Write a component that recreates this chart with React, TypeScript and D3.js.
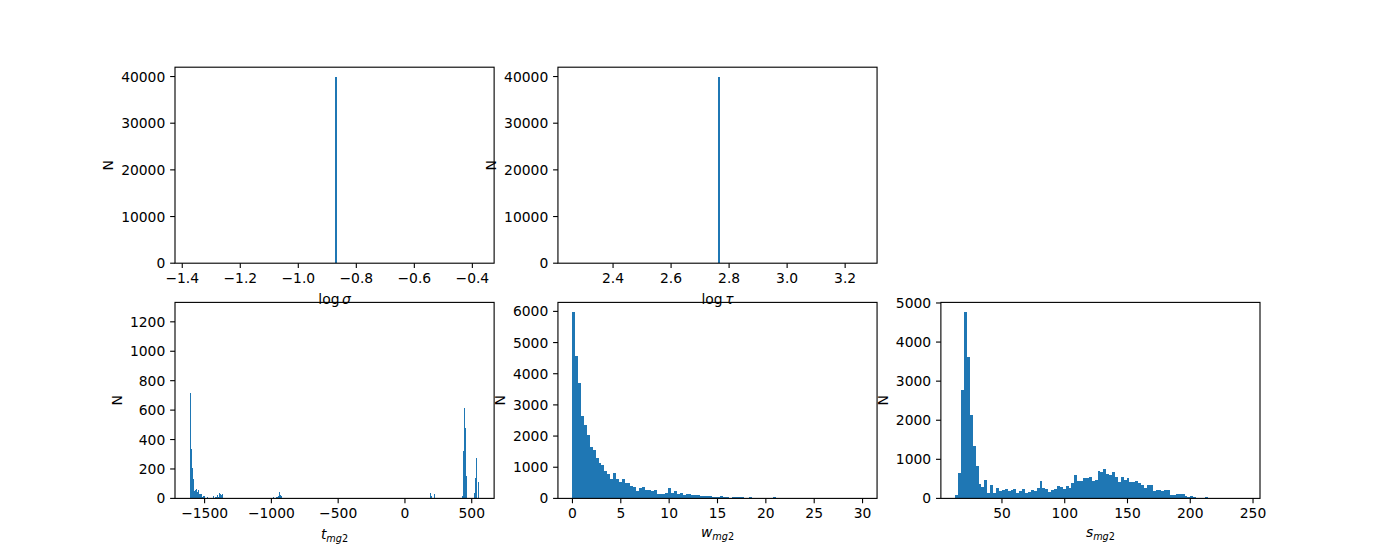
import React from "react";
import * as d3 from "d3";

// ---------- data ----------
const sigmaRange: [number, number] = [-1.375, -0.375];
const sigmaBins = 100;
const sigmaCounts: [number, number][] = [[50, 40000]];

const tauRange: [number, number] = [2.26, 3.26];
const tauBins = 100;
const tauCounts: [number, number][] = [[50, 40000]];

const tRange: [number, number] = [-1613, 559];
const tBins = 300;
const tCounts: [number, number][] = [
  [0, 714], [1, 333], [2, 204], [3, 129], [4, 48], [5, 54], [6, 61], [7, 41], [8, 54],
  [9, 27], [10, 27], [11, 27], [12, 7], [13, 14], [15, 14], [18, 7], [24, 14], [26, 7],
  [27, 7], [28, 20], [29, 7], [30, 34], [31, 27], [32, 20], [33, 27],
  [86, 7], [89, 7], [90, 10], [91, 14], [92, 41], [93, 22], [94, 14],
  [249, 34], [250, 14], [253, 27],
  [282, 14], [283, 320], [284, 612], [285, 476], [286, 150],
  [294, 34], [295, 136], [296, 272], [298, 109], [299, 1],
];
const tYMax = 1332;

const wRange: [number, number] = [0, 30];
const wCounts: number[] = [
  5989, 4572, 3703, 2640, 2351, 2029, 1642, 1546, 1288, 1127,
  1063, 869, 773, 612, 805, 612, 515, 612, 483, 483,
  386, 354, 225, 322, 354, 258, 258, 225, 258, 129,
  129, 129, 161, 322, 161, 225, 129, 161, 97, 129,
  129, 97, 97, 97, 64, 64, 64, 64, 32, 32,
  32, 64, 32, 32, 15, 32, 32, 32, 32, 10,
  12, 32, 8, 10, 6, 8, 5, 6, 8, 30,
  28, 6, 25, 4, 3, 2, 3, 2, 1, 2,
  1, 1, 2, 1, 0, 1, 1, 0, 1, 0,
  0, 1, 0, 0, 1, 0, 0, 0, 0, 1,
];

const sRange: [number, number] = [12.9, 244];
const sCounts: number[] = [
  77, 642, 2773, 4776, 3621, 2131, 1335, 822, 360, 282,
  462, 128, 334, 128, 257, 180, 205, 231, 180, 205,
  231, 128, 180, 231, 128, 154, 205, 180, 257, 437,
  257, 231, 154, 205, 231, 308, 282, 231, 308, 257,
  385, 591, 437, 437, 514, 514, 539, 437, 462, 693,
  668, 745, 616, 591, 668, 539, 411, 539, 462, 514,
  411, 411, 437, 385, 334, 257, 334, 334, 180, 205,
  205, 180, 205, 205, 77, 77, 103, 103, 103, 51,
  26, 51, 26, 10, 8, 6, 26, 5, 3, 2,
  2, 1, 1, 0, 1, 0, 0, 1, 0, 1,
];

const sigmaXTicks = [-1.4, -1.2, -1.0, -0.8, -0.6, -0.4];
const tauXTicks = [2.4, 2.6, 2.8, 3.0, 3.2];
const tXTicks = [-1500, -1000, -500, 0, 500];
const wXTicks = [0, 5, 10, 15, 20, 25, 30];
const sXTicks = [50, 100, 150, 200, 250];

const bigYTicks = [0, 10000, 20000, 30000, 40000];
const tYTicks = [0, 200, 400, 600, 800, 1000, 1200];
const wYTicks = [0, 1000, 2000, 3000, 4000, 5000, 6000];
const sYTicks = [0, 1000, 2000, 3000, 4000, 5000];

// ---------- helpers ----------
function dense(n: number, pairs: [number, number][]): number[] {
  const a = new Array(n).fill(0);
  pairs.forEach(([i, c]) => (a[i] = c));
  return a;
}

const BLUE = "#1f77b4";
const FS = 13.89;
const SUBFS = 9.72;
const AW = 1085 / 3.4;
const GAP = AW * 0.2;
const AH = 431.2 / 2.2;
const LEFT0 = 175;
const TOP0 = 67.2;
const TICK = 4.86;
const LW = 1.11;

type LabelSpec =
  | { kind: "log"; sym: string }
  | { kind: "sub"; base: string };

interface PanelSpec {
  row: number;
  col: number;
  counts: number[];
  range: [number, number];
  xTicks: number[];
  xFmt: (v: number) => string;
  yTicks: number[];
  yMax?: number;
  label: LabelSpec;
  labelDy: number;
}

const f1 = d3.format(".1f");
const fd = d3.format("d");

const panels: PanelSpec[] = [
  { row: 0, col: 0, counts: dense(sigmaBins, sigmaCounts), range: sigmaRange, xTicks: sigmaXTicks, xFmt: f1, yTicks: bigYTicks, label: { kind: "log", sym: "σ" }, labelDy: 41 },
  { row: 0, col: 1, counts: dense(tauBins, tauCounts), range: tauRange, xTicks: tauXTicks, xFmt: f1, yTicks: bigYTicks, label: { kind: "log", sym: "τ" }, labelDy: 41 },
  { row: 1, col: 0, counts: dense(tBins, tCounts), range: tRange, xTicks: tXTicks, xFmt: fd, yTicks: tYTicks, yMax: tYMax, label: { kind: "sub", base: "t" }, labelDy: 40.3 },
  { row: 1, col: 1, counts: wCounts, range: wRange, xTicks: wXTicks, xFmt: fd, yTicks: wYTicks, label: { kind: "sub", base: "w" }, labelDy: 38.6 },
  { row: 1, col: 2, counts: sCounts, range: sRange, xTicks: sXTicks, xFmt: fd, yTicks: sYTicks, label: { kind: "sub", base: "s" }, labelDy: 38.6 },
];

function Panel({ p }: { p: PanelSpec }) {
  const x0 = LEFT0 + p.col * (AW + GAP);
  const y0 = TOP0 + p.row * (AH + AH * 0.2);
  const [lo, hi] = p.range;
  const span = hi - lo;
  const n = p.counts.length;
  const bw = span / n;
  const xs = d3.scaleLinear().domain([lo - 0.05 * span, hi + 0.05 * span]).range([x0, x0 + AW]);
  const yMax = p.yMax ?? (d3.max(p.counts) as number) * 1.05;
  const ys = d3.scaleLinear().domain([0, yMax]).range([y0 + AH, y0]);
  const yb = y0 + AH;
  const yLabels = p.yTicks.map((v) => fd(v));
  const maxLen = d3.max(yLabels, (s) => s.length) as number;
  const ylabOff = TICK * 2 + maxLen * 8.84 + 5.6 + 2.6;
  const cx = x0 + AW / 2;

  // pixel-snapped bars (like matplotlib's Agg snapping), each bin keeps its own pixel column
  const path = d3.path();
  const ybR = Math.round(yb);
  let prevEnd = -Infinity;
  p.counts.forEach((c, i) => {
    if (c <= 0) return;
    let xa = Math.round(xs(lo + i * bw));
    if (xa < prevEnd) xa = prevEnd;
    let xb = Math.round(xs(lo + (i + 1) * bw));
    if (xb <= xa) xb = xa + 1;
    prevEnd = xb;
    const yt = Math.round(ys(c));
    if (yt >= ybR) return;
    path.rect(xa, yt, xb - xa, ybR - yt);
  });

  return (
    <g>
      <path d={path.toString()} fill={BLUE} shapeRendering="crispEdges" />
      <rect x={x0} y={y0} width={AW} height={AH} fill="none" stroke="#000" strokeWidth={LW} />
      {p.xTicks.map((v) => (
        <g key={"x" + v}>
          <line x1={xs(v)} x2={xs(v)} y1={yb} y2={yb + TICK} stroke="#000" strokeWidth={LW} />
          <text x={xs(v)} y={yb + 20} textAnchor="middle" fontSize={FS}>
            {p.xFmt(v)}
          </text>
        </g>
      ))}
      {p.yTicks.map((v, i) => (
        <g key={"y" + v}>
          <line x1={x0 - TICK} x2={x0} y1={ys(v)} y2={ys(v)} stroke="#000" strokeWidth={LW} />
          <text x={x0 - TICK * 2} y={ys(v) + 5} textAnchor="end" fontSize={FS}>
            {yLabels[i]}
          </text>
        </g>
      ))}
      <text
        transform={`translate(${x0 - ylabOff},${y0 + AH / 2}) rotate(-90)`}
        textAnchor="middle"
        fontSize={FS}
      >
        N
      </text>
      {p.label.kind === "log" ? (
        <text x={cx} y={yb + p.labelDy} textAnchor="middle" fontSize={FS}>
          log
          <tspan dx={2.5} fontStyle="italic">
            {p.label.sym}
          </tspan>
        </text>
      ) : (
        <text x={cx} y={yb + p.labelDy} textAnchor="middle" fontSize={FS}>
          <tspan fontStyle="italic">{p.label.base}</tspan>
          <tspan fontSize={SUBFS} dy={2.8} fontStyle="italic">
            mg
          </tspan>
          <tspan fontSize={SUBFS}>2</tspan>
        </text>
      )}
    </g>
  );
}

export default function App() {
  return (
    <svg
      width={1400}
      height={560}
      style={{ position: "absolute", left: 0, top: 0, background: "#fff" }}
      fontFamily="'DejaVu Sans', sans-serif"
    >
      <rect x={0} y={0} width={1400} height={560} fill="#fff" />
      {panels.map((p, i) => (
        <Panel key={i} p={p} />
      ))}
    </svg>
  );
}
